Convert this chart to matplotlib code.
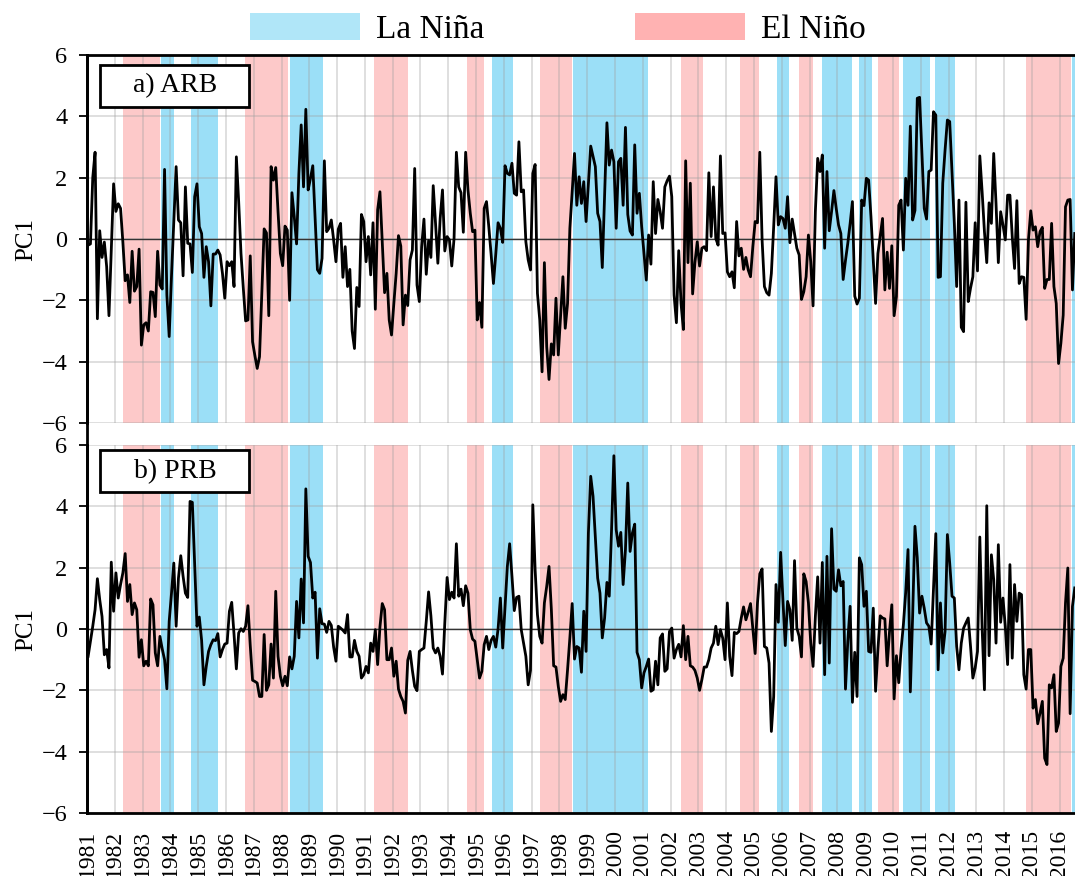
import numpy as np
import matplotlib.pyplot as plt
from matplotlib.patches import Patch, Rectangle
from matplotlib.lines import Line2D

plt.rcParams['font.family'] = 'serif'
plt.rcParams['font.serif'] = ['Liberation Serif', 'DejaVu Serif']

# monthly PC1, Jan 1981 - Jul 2016 (one row per year)
arb_pc1 = [
    -0.2, -0.16, 2.0, 2.83, -2.6, 0.27, -0.6, -0.1, -0.9, -2.5, -0.3, 1.8,
    0.9, 1.15, 1.0, -0.1, -1.36, -1.17, -2.07, -0.4, -1.7, -1.55, -0.33, -3.46,
    -2.8, -2.73, -3.0, -1.72, -1.74, -2.53, -0.4, -1.5, -1.63, 2.27, -1.83, -3.18,
    -1.2, 0.6, 2.36, 0.62, 0.53, -1.2, 1.7, -0.14, -0.16, -1.09, 1.38, 1.8,
    0.4, 0.18, -1.25, -0.25, -0.74, -2.18, -0.49, -0.49, -0.36, -0.52, -1.12, -1.93,
    -0.74, -0.87, -0.74, -1.55, 2.68, 1.22, -0.47, -1.6, -2.67, -2.64, -0.55, -3.35,
    -3.8, -4.22, -3.84, -1.8, 0.33, 0.2, -2.5, 2.36, 1.92, 2.33, 0.89, -0.47,
    -0.87, 0.42, 0.29, -2.0, 1.51, 0.73, -0.16, 2.14, 3.72, 1.7, 4.23, 1.6,
    1.98, 2.39, 0.7, -1.0, -1.12, -0.63, 2.55, 0.24, 0.35, 0.62, -0.03, -0.74,
    0.32, 0.51, -1.25, -0.25, -1.55, -0.99, -3.0, -3.57, -1.58, -2.2, 0.8, 0.57,
    -0.74, 0.08, -1.17, 0.53, -2.29, 0.95, 1.54, -0.1, -1.75, -1.12, -2.64, -3.13,
    -2.1, -1.12, 0.11, -0.23, -2.8, -1.83, -2.17, -0.68, -0.36, 2.3, -1.5, -2.04,
    -0.25, 0.65, -1.15, -0.05, -0.6, 1.74, 0.51, -0.79, 0.67, 1.6, -0.39, 0.08,
    -0.03, -0.88, 0.02, 2.83, 1.7, 1.51, 0.22, 2.83, 1.6, 0.84, 0.24, 0.29,
    -2.64, -2.07, -2.88, 1.0, 1.22, 0.4, -0.5, -1.45, -0.5, 0.53, 0.35, -0.11,
    2.39, 2.14, 2.09, 2.47, 1.49, 1.43, 3.17, 1.54, 1.6, -0.09, -0.68, -1.01,
    2.14, 2.43, -1.77, -2.64, -4.33, -0.77, -3.51, -4.58, -3.42, -3.78, -1.93, -3.78,
    -2.5, -1.23, -2.91, -2.1, 0.35, 1.54, 2.79, 1.1, 2.03, 1.16, 1.87, 0.57,
    1.8, 3.03, 2.7, 2.36, 0.84, 0.57, -0.93, 1.4, 3.79, 2.41, 2.9, 2.52,
    0.35, 2.52, 2.63, 1.1, 3.64, 0.8, 0.26, 0.13, 3.07, 0.84, 1.49, 0.4,
    -0.47, -1.34, 0.13, -0.82, 1.87, 0.18, 1.29, 0.89, 0.35, 1.7, 1.9, 2.05,
    1.38, -1.83, -2.73, -0.38, -2.1, -2.95, 2.55, -0.77, 1.82, -1.79, -0.77, -0.09,
    -0.88, -0.3, -0.25, -0.38, 2.16, 0.08, 1.7, 0.02, -0.2, 2.71, 0.18, 0.2,
    -1.07, -1.23, -1.07, -1.59, 0.57, -0.55, -0.3, -0.99, -0.6, -1.01, -1.23, -0.25,
    0.57, 0.53, 2.83, -0.03, -1.55, -1.75, -1.83, -1.12, 0.4, 2.03, 0.46, 0.73,
    0.67, 0.35, 1.38, -0.12, 0.65, 0.18, -0.3, -0.52, -1.97, -1.72, -1.23, 0.13,
    -0.74, -2.18, 0.9, 2.63, 2.2, 2.74, -0.3, 2.2, 0.27, 0.9, 1.58, 1.0,
    0.46, 0.18, -1.32, -0.7, -0.14, 0.5, 1.22, -1.86, -2.12, -1.93, 1.27, 1.09,
    1.98, 1.92, 0.73, -0.7, -2.1, -0.47, 0.1, 0.67, -1.66, -0.43, -1.61, -0.22,
    -2.5, -1.88, 1.1, 1.27, -0.36, 1.98, 1.1, 3.68, 0.62, 0.93, 4.59, 4.62,
    2.8, 1.0, 0.65, 2.2, 2.25, 4.15, 4.04, -1.25, -1.23, 1.82, 2.9, 3.88,
    3.83, 2.2, 0.51, -1.55, 1.27, -2.88, -3.02, 1.2, -2.04, -1.6, -1.23, 0.53,
    -1.04, 2.71, 1.54, 0.24, -0.77, 1.18, 0.51, 2.79, 1.16, -0.77, 0.89, 0.46,
    -0.03, 1.43, 1.43, 0.08, -0.96, 1.25, -1.45, -1.23, -1.25, -2.62, -0.03, 0.92,
    0.29, 0.4, -0.25, 0.24, 0.38, -1.61, -1.32, -1.32, 0.51, -1.55, -2.1, -4.06,
    -3.4, -2.48, 1.05, 1.27, 1.29, -1.66, 0.18,
]

prb_pc1 = [
    -0.89, -0.4, 0.09, 0.63, 1.64, 0.96, 0.41, -0.84, -0.67, -1.27, 2.18, 0.58,
    1.83, 1.01, 1.45, 1.83, 2.46, 0.9, 1.45, 0.47, 0.85, 0.63, -0.92, -0.35,
    -1.2, -1.05, -1.2, 0.98, 0.79, -0.78, -1.2, -0.24, -0.65, -1.0, -1.95, 0.25,
    1.17, 2.15, 0.09, 1.66, 2.39, 1.72, 1.17, 1.03, 4.16, 4.13, 2.15, 0.09,
    0.39, -0.37, -1.82, -1.22, -0.73, -0.51, -0.35, -0.38, -0.15, -0.91, -0.67, -0.49,
    -0.46, 0.58, 0.87, -0.18, -1.3, -0.13, 0.01, -0.08, 0.09, 0.76, -0.54, -1.67,
    -1.71, -1.76, -2.2, -2.2, -0.18, -2.0, -1.82, -0.49, -1.6, 1.23, -0.89, -1.54,
    -1.85, -1.54, -1.85, -0.91, -1.3, -0.89, 0.9, -0.29, 1.63, 0.2, 4.57, 2.37,
    2.17, 1.01, 1.2, -0.95, 0.66, 0.17, 0.16, -0.11, 0.25, 0.12, -0.59, -1.05,
    0.09, 0.03, -0.04, -0.13, 0.47, -0.91, -0.91, -0.37, -0.73, -0.89, -1.6, -1.49,
    -1.22, -1.43, -0.46, -0.73, -0.02, -1.16, 0.07, 0.83, 0.63, -1.0, -1.0, -0.62,
    -1.54, -1.05, -1.96, -2.2, -2.36, -2.74, -1.02, -0.73, -1.35, -1.87, -2.01, -0.73,
    -0.67, -0.62, 0.25, 1.21, 0.43, -0.62, -0.78, -0.62, -0.89, -1.47, 0.2, 1.68,
    0.96, 1.2, 1.01, 2.78, 1.07, 1.3, 0.76, 1.41, 1.17, -0.02, -0.33, -0.4,
    -1.0, -1.6, -1.38, -0.51, -0.24, -0.67, -0.37, -0.24, -0.59, 0.0, 1.01, -0.62,
    0.68, 2.04, 2.78, 1.72, 0.6, 1.03, 1.07, -0.02, -0.46, -0.89, -1.82, -1.35,
    4.05, 1.93, 0.47, -0.24, -0.46, 0.85, 1.39, 2.04, 0.65, -1.2, -1.24, -1.87,
    -2.36, -2.14, -2.3, -1.33, -0.29, 0.83, -0.98, -0.57, -0.62, -1.41, 0.58, -0.73,
    3.13, 4.98, 4.33, 3.0, 1.66, 1.17, -0.29, 0.36, 1.52, 1.07, 3.24, 5.65,
    3.24, 2.7, 3.15, 1.45, 2.59, 4.76, 2.53, 3.13, 3.42, -0.76, -1.0, -1.92,
    -1.43, -1.22, -0.98, -2.03, -1.98, -1.05, -1.82, -0.29, -0.16, -1.38, -1.3, -0.08,
    0.03, -0.95, -0.67, -0.5, -0.91, 0.11, -1.0, -0.24, -1.2, -1.24, -1.35, -1.6,
    -2.0, -1.65, -1.24, -1.24, -1.0, -0.62, -0.46, 0.09, -0.51, -0.02, -0.3, -1.0,
    0.85, -0.89, -1.52, -0.11, -0.15, -0.08, 0.36, 0.72, 0.3, 0.55, 0.83, 0.0,
    -0.8, 0.85, 1.8, 1.96, -0.57, -0.62, -1.11, -3.34, -2.2, 1.45, 0.22, 2.5,
    0.93, -0.54, 0.9, 0.63, -0.37, 2.23, 0.03, -0.24, -0.91, 1.8, 1.55, 0.85,
    -0.46, -1.22, 0.41, 1.7, -0.46, 2.17, -1.49, 2.37, -1.11, 3.27, 1.3, 1.23,
    1.93, 1.41, 1.55, -1.96, -0.4, 0.74, -2.39, -0.76, -2.2, 2.32, 2.1, 0.74,
    1.23, -0.73, -0.76, 0.68, -2.03, -0.67, 0.43, 0.36, 0.33, -1.2, -0.1, 0.79,
    -2.28, -0.87, -1.75, -0.67, 0.14, 1.2, 2.59, -2.05, 0.43, 3.35, 2.32, 0.52,
    1.07, 0.68, 0.2, 0.09, -0.49, 1.3, 3.11, -1.33, 0.85, -0.78, -0.08, 3.08,
    2.15, 1.07, 1.01, -0.57, -1.33, -0.46, 0.03, 0.2, 0.36, -0.57, -1.6, -1.27,
    -0.73, 3.0, 0.03, -1.98, 4.02, -0.87, 2.42, 1.61, -0.46, 2.75, 0.22, 1.01,
    0.09, -1.16, 2.1, -0.95, 1.45, 0.25, 1.17, 1.12, -1.49, -1.96, -0.67, -0.67,
    -2.58, -2.3, -3.09, -2.74, -2.36, -4.21, -4.42, -1.82, -1.92, -1.49, -3.34, -3.07,
    -1.22, -0.95, 0.85, 1.99, -2.76, 0.74, 1.34,
]

# ENSO episodes (decimal years)
el_nino_start = [1982.29, 1986.70, 1991.32, 1994.67, 1997.31, 2002.38, 2004.48, 2006.61, 2009.45, 2014.78]
el_nino_end = [1983.61, 1988.22, 1992.55, 1995.28, 1998.46, 2003.17, 2005.18, 2007.13, 2010.23, 2016.42]
la_nina_start = [1983.68, 1984.76, 1988.31, 1995.57, 1998.48, 2005.81, 2007.44, 2008.77, 2010.36, 2011.50, 2016.46]
la_nina_end = [1984.13, 1985.70, 1989.49, 1996.32, 2001.18, 2006.26, 2008.53, 2009.25, 2011.32, 2012.24, 2016.70]

years = list(range(1981, 2017))
panel_labels = ['a) ARB', 'b) PRB']

blue = '#9bdff7'
pink = '#fdc9c9'

fig = plt.figure(figsize=(10.75, 8.76), dpi=100)
ax1 = fig.add_axes([0.0809, 0.5171, 0.9191, 0.4201])
ax2 = fig.add_axes([0.0809, 0.0719, 0.9191, 0.4201])

for ax, series, label in zip([ax1, ax2], [arb_pc1, prb_pc1], panel_labels):
    t = 1981 + (np.arange(len(series)) + 0.5) / 12
    for s, e in zip(el_nino_start, el_nino_end):
        ax.axvspan(s, e, color=pink, lw=0, zorder=0)
    for s, e in zip(la_nina_start, la_nina_end):
        ax.axvspan(s, e, color=blue, lw=0, zorder=0)
    ax.axhline(0, color='#333333', lw=1.0, zorder=2)
    ax.plot(t, series, color='black', lw=2.0, zorder=3)

    ax.set_xlim(1981, 2016.55)
    ax.set_ylim(-6, 6)
    ax.set_xticks(years)
    ax.set_yticks(range(-6, 7, 2))
    ax.grid(True, color='#a0a0a0', alpha=0.4, lw=1.2)
    ax.set_axisbelow(True)
    ax.set_ylabel('PC1', fontsize=18, labelpad=3)
    ax.tick_params(axis='y', labelsize=17.5, length=6, width=1.3, pad=8)
    ax.spines['right'].set_visible(False)
    ax.spines['left'].set_linewidth(2)

    box_y = 0.859 if ax is ax1 else 0.872
    ax.add_patch(Rectangle((0.0135, box_y), 0.151, 0.114, transform=ax.transAxes,
                           facecolor='white', edgecolor='black', lw=2, zorder=5))
    ax.text(0.0135 + 0.0755, box_y + 0.057, label, transform=ax.transAxes,
            fontsize=20, ha='center', va='center', zorder=6)

ax1.spines['bottom'].set_visible(False)
ax1.spines['top'].set_linewidth(2)
ax1.tick_params(axis='x', length=0, labelbottom=False)

ax2.spines['top'].set_visible(False)
ax2.spines['bottom'].set_linewidth(2)
ax2.tick_params(axis='x', length=0, labelsize=17, pad=12, labelrotation=90)

# left spine runs through the gap between panels
fig.add_artist(Line2D([0.0809, 0.0809], [0.0719, 0.9372], transform=fig.transFigure,
                      color='black', lw=2))

handles = [Patch(facecolor='#b0e6f8', label='La Niña'),
           Patch(facecolor='#ffb2b2', label='El Niño')]
fig.legend(handles=handles, loc='center', bbox_to_anchor=(0.519, 0.967), ncol=2,
           frameon=False, fontsize=24, handlelength=3.3, handleheight=0.85,
           handletextpad=0.5, columnspacing=4.5)

fig.savefig('out.png', dpi=100)
